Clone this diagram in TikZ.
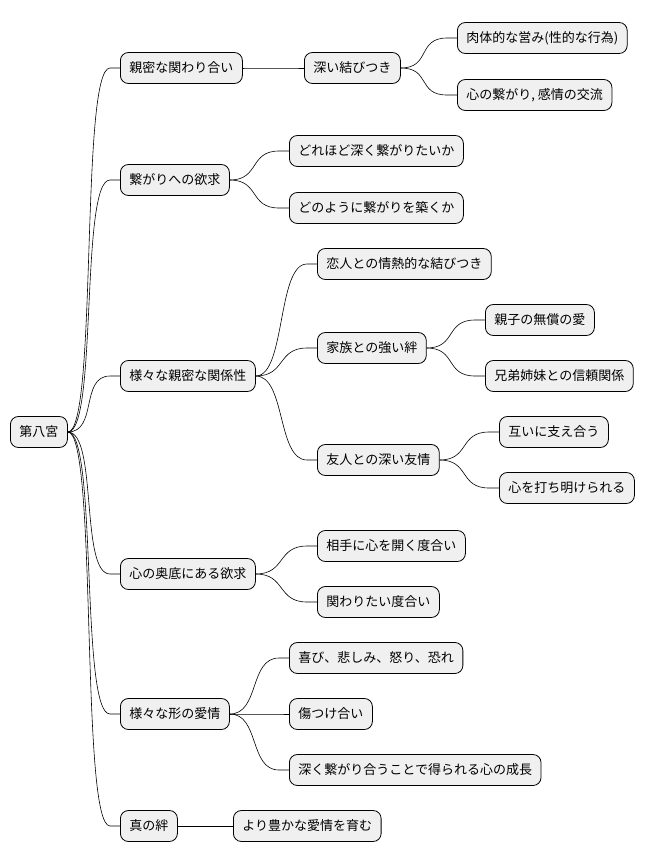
\documentclass[tikz,border=0pt]{standalone}
\usepackage{fontspec}
\newfontfamily\jpfont{Noto Sans CJK JP}
\begin{document}
\begin{tikzpicture}[x=1pt,y=-1pt,
    idea/.style={draw, fill=black!6, rounded corners=8pt, anchor=west, minimum height=31pt, inner xsep=9pt, font=\jpfont\fontsize{13}{15}\selectfont, line width=0.8pt},
    link/.style={line width=0.6pt}]
    \useasboundingbox (0,0) rectangle (656,865);

    \node[idea] (root) at (10,432) {第八宮};

    \node[idea] (a) at (120,68) {親密な関わり合い};
    \node[idea] (a1) at (304,68) {深い結びつき};
    \node[idea] (a11) at (457,38) {肉体的な営み(性的な行為)};
    \node[idea] (a12) at (457,95) {心の繋がり, 感情の交流};

    \node[idea] (b) at (120,180) {繋がりへの欲求};
    \node[idea] (b1) at (289,151) {どれほど深く繋がりたいか};
    \node[idea] (b2) at (289,208) {どのように繋がりを築くか};

    \node[idea] (c) at (120,376) {様々な親密な関係性};
    \node[idea] (c1) at (317,264) {恋人との情熱的な結びつき};
    \node[idea] (c2) at (317,348) {家族との強い絆};
    \node[idea] (c21) at (485,320) {親子の無償の愛};
    \node[idea] (c22) at (485,376) {兄弟姉妹との信頼関係};
    \node[idea] (c3) at (317,460) {友人との深い友情};
    \node[idea] (c31) at (499,432) {互いに支え合う};
    \node[idea] (c32) at (499,488) {心を打ち明けられる};

    \node[idea] (d) at (120,574) {心の奥底にある欲求};
    \node[idea] (d1) at (317,546) {相手に心を開く度合い};
    \node[idea] (d2) at (317,602) {関わりたい度合い};

    \node[idea] (e) at (120,714) {様々な形の愛情};
    \node[idea] (e1) at (289,658) {喜び、悲しみ、怒り、恐れ};
    \node[idea] (e2) at (289,714) {傷つけ合い};
    \node[idea] (e3) at (289,770) {深く繋がり合うことで得られる心の成長};

    \node[idea] (f) at (120,826) {真の絆};
    \node[idea] (f1) at (233,826) {より豊かな愛情を育む};

    % branches
    \foreach \p/\c in {root/a,root/b,root/c,root/d,root/e,root/f,
        a/a1,a1/a11,a1/a12,b/b1,b/b2,c/c1,c/c2,c/c3,c2/c21,c2/c22,
        c3/c31,c3/c32,d/d1,d/d2,e/e1,e/e2,e/e3,f/f1}
        \draw[link] (\p.east) .. controls +(30,0) and +(-30,0) .. ([xshift=-10pt]\c.west) -- (\c.west);
\end{tikzpicture}
\end{document}
